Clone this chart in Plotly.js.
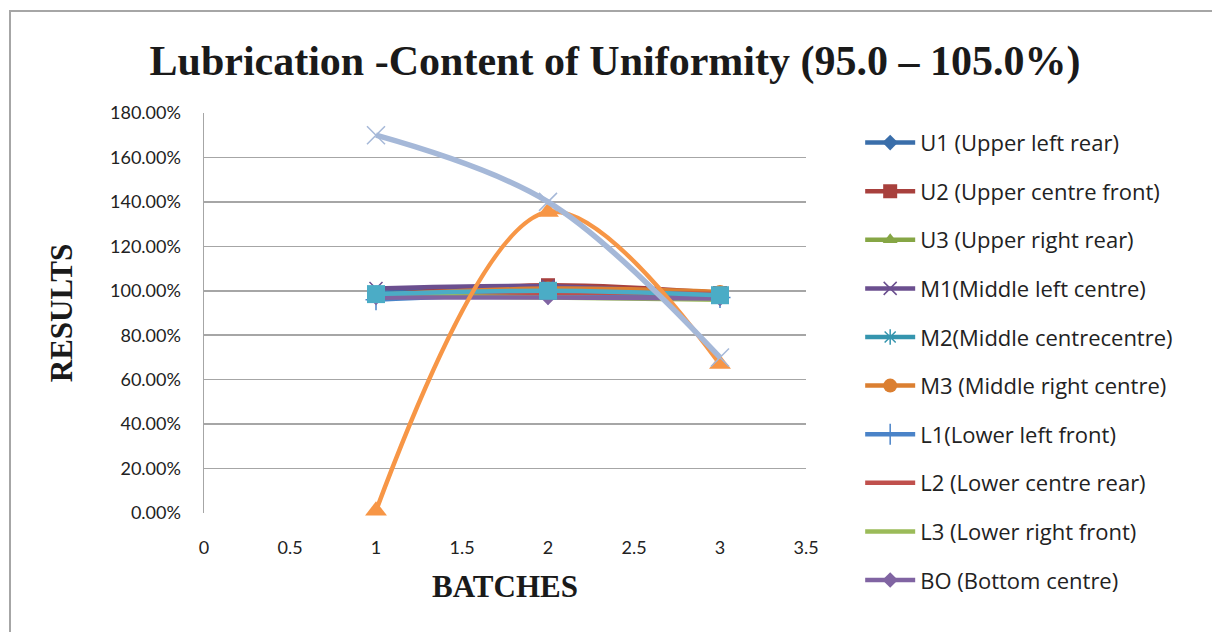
<!DOCTYPE html>
<html>
<head>
<meta charset="utf-8">
<script src="https://cdn.plot.ly/plotly-3.0.1.min.js"></script>
<style>
  html, body { margin: 0; padding: 0; background: #fff; overflow: hidden; }
  #chart { width: 1212px; height: 632px; }
  #frame { position: absolute; left: 9px; top: 10px; width: 1400px; height: 800px;
           border-left: 2px solid #A6A6A6; border-top: 2px solid #A6A6A6; pointer-events: none; }
</style>
</head>
<body>
<div id="chart"></div>
<div id="frame"></div>
<script>
const batches = [1, 2, 3];
const seriesNames = [
  "U1 (Upper left rear)",
  "U2 (Upper centre front)",
  "U3 (Upper right rear)",
  "M1(Middle left centre)",
  "M2(Middle centrecentre)",
  "M3 (Middle right centre)",
  "L1(Lower left front)",
  "L2 (Lower centre rear)",
  "L3 (Lower right front)",
  "BO (Bottom centre)",
  "Series 11",
  "Series 12",
  "Series 13"
];
const U1 = [0.990, 1.015, 0.985];
const U2 = [0.980, 1.025, 0.990];
const U3 = [0.975, 0.995, 0.980];
const M1 = [1.010, 1.020, 0.980];
const M2 = [0.985, 0.990, 0.975];
const M3 = [0.980, 1.010, 0.995];
const L1 = [0.960, 0.985, 0.970];
const L2 = [0.970, 0.990, 0.985];
const L3 = [0.980, 0.970, 0.960];
const BO = [0.970, 0.970, 0.965];
const S11 = [0.985, 1.000, 0.980];
const S12 = [0.010, 1.355, 0.670];
const S13 = [1.700, 1.400, 0.700];
const seriesValues = [U1, U2, U3, M1, M2, M3, L1, L2, L3, BO, S11, S12, S13];
const xTicks = [0, 0.5, 1, 1.5, 2, 2.5, 3, 3.5];
const yTicks = [0, 0.2, 0.4, 0.6, 0.8, 1.0, 1.2, 1.4, 1.6, 1.8];

const colors = ["#3A6EAA", "#A8403D", "#86A645", "#6B4F8F", "#3595AE", "#DB7F31",
                "#4A83C8", "#C0504D", "#9BBB59", "#8064A2", "#4BACC6", "#F79646", "#A5B8D8"];
const symbols = ["diamond", "square", "triangle-up", "x-thin-open", "asterisk-open", "circle",
                 "cross-thin-open", "line-ew-open", "line-ew-open", "diamond", "square", "triangle-up", "x-thin-open"];
const sizes = [12, 14, 13, 13, 13, 14, 15, 1, 1, 12, 18, 19, 18];
const widths = [4.5, 4.5, 4.5, 4.5, 4.5, 4.5, 4.5, 4.5, 4.5, 4.5, 4.5, 4.5, 5.5];

const traces = seriesValues.map((vals, i) => ({
  x: batches,
  y: vals,
  name: seriesNames[i],
  type: "scatter",
  mode: "lines+markers",
  cliponaxis: false,
  line: { color: colors[i], width: widths[i], shape: "spline", smoothing: 1 },
  marker: { symbol: symbols[i], size: sizes[i], color: colors[i],
            line: { color: colors[i], width: (symbols[i].indexOf("open") >= 0 ? 1.5 : 0) } },
  showlegend: i < 10,
  legendgroup: "g" + i
}));

const layout = {
  width: 1212, height: 632,
  paper_bgcolor: "#fff", plot_bgcolor: "#fff",
  margin: { l: 204, r: 406, t: 113, b: 119 },
  title: {
    text: "<b>Lubrication -Content of Uniformity (95.0 – 105.0%)</b>",
    font: { family: "Liberation Serif", size: 42, color: "#1a1a1a" },
    x: 615 / 1212, xref: "container", xanchor: "center",
    y: 1 - 60 / 632, yanchor: "middle"
  },
  xaxis: {
    range: [0, 3.5], tickvals: xTicks, ticktext: xTicks.map(String),
    showgrid: false, zeroline: false, showline: false,
    ticks: "", tickfont: { family: "Lato", size: 18, color: "#222" },
    ticklabelstandoff: 22,
    title: { text: "<b>BATCHES</b>", font: { family: "Liberation Serif", size: 31, color: "#1a1a1a" }, standoff: 18 }
  },
  yaxis: {
    range: [0, 1.8], tickvals: yTicks, tickformat: ".2%",
    showgrid: true, gridcolor: "#A6A6A6", gridwidth: 1.5,
    zeroline: false, showline: true, linecolor: "#A6A6A6", linewidth: 1.5,
    ticks: "", tickfont: { family: "Lato", size: 18, color: "#222" },
    ticklabelstandoff: 18,
    title: { text: "<b>RESULTS</b>", font: { family: "Liberation Serif", size: 31, color: "#1a1a1a" }, standoff: 28 }
  },
  legend: {
    x: 1.09, xanchor: "left", y: 0.978, yanchor: "top",
    font: { family: "Open Sans", size: 22, color: "#222" },
    traceorder: "grouped", tracegroupgap: 17,
    itemwidth: 50, bgcolor: "rgba(0,0,0,0)", maxheight: 620
  },
  showlegend: true
};

Plotly.newPlot("chart", traces, layout, { displayModeBar: false, staticPlot: true });
</script>
</body>
</html>
